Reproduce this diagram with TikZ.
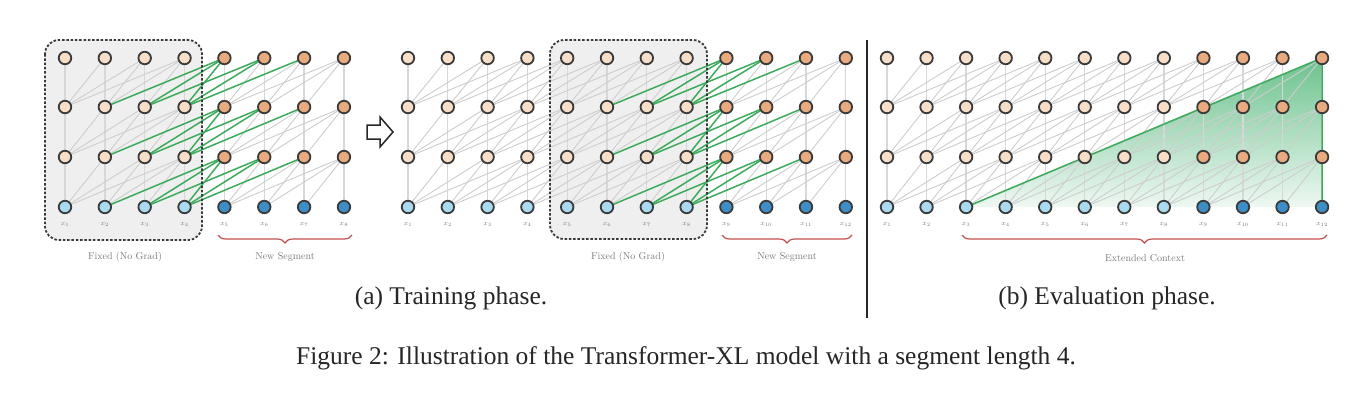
\documentclass[tikz,border=0pt]{standalone}
\usepackage{fontspec}
\newfontfamily\capfont{Liberation Serif}
\usetikzlibrary{decorations.pathreplacing}
\definecolor{hidold}{HTML}{F7DEC9}
\definecolor{hidnew}{HTML}{E9AA7F}
\definecolor{inold}{HTML}{A9DAF0}
\definecolor{innew}{HTML}{3D8EC6}
\definecolor{nodeline}{HTML}{3A3A3A}
\definecolor{edgegray}{HTML}{CDCDCD}
\definecolor{vertgray}{HTML}{D8D8D8}
\definecolor{grn}{HTML}{3DAA5C}
\definecolor{bracered}{HTML}{C4504F}
\definecolor{labgray}{HTML}{7A7A7A}
\definecolor{boxfill}{HTML}{EFEFEF}
\definecolor{triA}{HTML}{6CC28E}
\definecolor{triB}{HTML}{EEF8F2}
\pgfdeclarelayer{bg}
\pgfdeclarelayer{edges}
\pgfdeclarelayer{gedges}
\pgfsetlayers{bg,edges,gedges,main}
\newcommand\mkpanel[5]{%
  \foreach \i in {1,...,#4}{%
    \pgfmathsetmacro\xx{#2+(\i-1)*#3}%
    \ifnum\i>#5\relax\def\hc{hidnew}\def\ic{innew}\else\def\hc{hidold}\def\ic{inold}\fi
    \node[tok,fill=\ic] (#1-\i-0) at (\xx,207) {};
    \node[tok,fill=\hc] (#1-\i-1) at (\xx,157) {};
    \node[tok,fill=\hc] (#1-\i-2) at (\xx,107) {};
    \node[tok,fill=\hc] (#1-\i-3) at (\xx,58) {};
    \node[xlab] (#1-l\i) at (\xx,224) {$x_{\i}$};
  }}
% #4 = 1: grey edges only, 2: green edges only
\newcommand\mkedges[4]{%
  \foreach \i in {1,...,#2}{\foreach \r in {1,2,3}{\foreach \k in {0,1,2,3}{%
    \pgfmathtruncatemacro\j{\i-\k}%
    \pgfmathtruncatemacro\rr{\r-1}%
    \pgfmathtruncatemacro\isg{and(\j<=#3,\i>#3)}%
    \ifnum\j>0\relax
      \ifnum\k=0\relax
        \ifnum#4=1\relax\draw[vedge] (#1-\j-\rr.center) -- (#1-\i-\r.center);\fi
      \else
        \ifnum\isg=1\relax
          \ifnum#4=2\relax\draw[gedge] (#1-\j-\rr.center) -- (#1-\i-\r.center);\fi
        \else
          \ifnum#4=1\relax\draw[dedge] (#1-\j-\rr.center) -- (#1-\i-\r.center);\fi
        \fi
      \fi
    \fi
  }}}}
\begin{document}
\begin{tikzpicture}[x=1pt,y=-1pt,
  tok/.style={circle,draw=nodeline,line width=1.8pt,minimum size=12.5pt,inner sep=0pt},
  xlab/.style={text=labgray,font=\fontsize{7}{8}\selectfont,inner sep=0pt},
  vedge/.style={draw=vertgray,line width=1.3pt},
  dedge/.style={draw=edgegray,line width=0.9pt},
  gedge/.style={draw=grn,line width=1.5pt},
  fixbox/.style={draw=nodeline,line width=1.8pt,dash pattern=on 2.5pt off 1.8pt,rounded corners=14pt},
  brc/.style={draw=bracered,line width=1.2pt,decorate,decoration={brace,mirror,amplitude=8pt}},
  grplab/.style={text=labgray,font=\fontsize{10}{12}\selectfont},
  captxt/.style={font=\capfont\fontsize{25.5}{30}\selectfont,text=black!85}]
\useasboundingbox (0,0) rectangle (1372,402);
\mkpanel{A}{65}{39.85}{8}{4}
\mkpanel{B}{408}{39.8}{12}{8}
\mkpanel{C}{887}{39.55}{12}{8}
\begin{pgfonlayer}{bg}
  \fill[white] (0,0) rectangle (1372,402);
  \fill[boxfill,rounded corners=14pt] (45,40) rectangle (202,240);
  \fill[boxfill,rounded corners=14pt] (550,40) rectangle (707,239);
  \shade[top color=triA,bottom color=triB] (C-3-0.center) -- (C-12-3.center) -- (C-12-0.center) -- cycle;
\end{pgfonlayer}
\begin{pgfonlayer}{edges}
  \mkedges{A}{8}{4}{1}
  \mkedges{B}{12}{8}{1}
  \mkedges{C}{12}{0}{1}
\end{pgfonlayer}
\begin{pgfonlayer}{gedges}
  \mkedges{A}{8}{4}{2}
  \mkedges{B}{12}{8}{2}
  \draw[gedge] (C-3-0.center) -- (C-12-3.center) -- (C-12-0.center);
\end{pgfonlayer}
\draw[fixbox] (45,40) rectangle (202,240);
\draw[fixbox] (550,40) rectangle (707,239);
% hollow arrow
\draw[line width=1.5pt,draw=black!85,fill=white,line join=miter]
  (367,125) -- (380,125) -- (380,117) -- (393,132) -- (380,147) -- (380,139) -- (367,139) -- cycle;
% divider
\draw[line width=1.3pt,black!85] (867,40) -- (867,318);
% braces
\draw[brc] (218,235) -- (352,235);
\draw[brc] (722,235) -- (852,235);
\draw[brc] (962,235) -- (1327,235);
\node[grplab] (fa) at (125,257) {Fixed (No Grad)};
\node[grplab] (na) at (285,257) {New Segment};
\node[grplab] (fb) at (628,257) {Fixed (No Grad)};
\node[grplab] (nb) at (787,257) {New Segment};
\node[grplab] (ec) at (1145,258) {Extended Context};
\node[captxt] (capa) at (451,298) {(a) Training phase.};
\node[captxt] (capb) at (1107,298) {(b) Evaluation phase.};
\node[captxt] (capf) at (686,358) {Figure 2: Illustration of the Transformer-XL model with a segment length 4.};
\end{tikzpicture}
\end{document}
